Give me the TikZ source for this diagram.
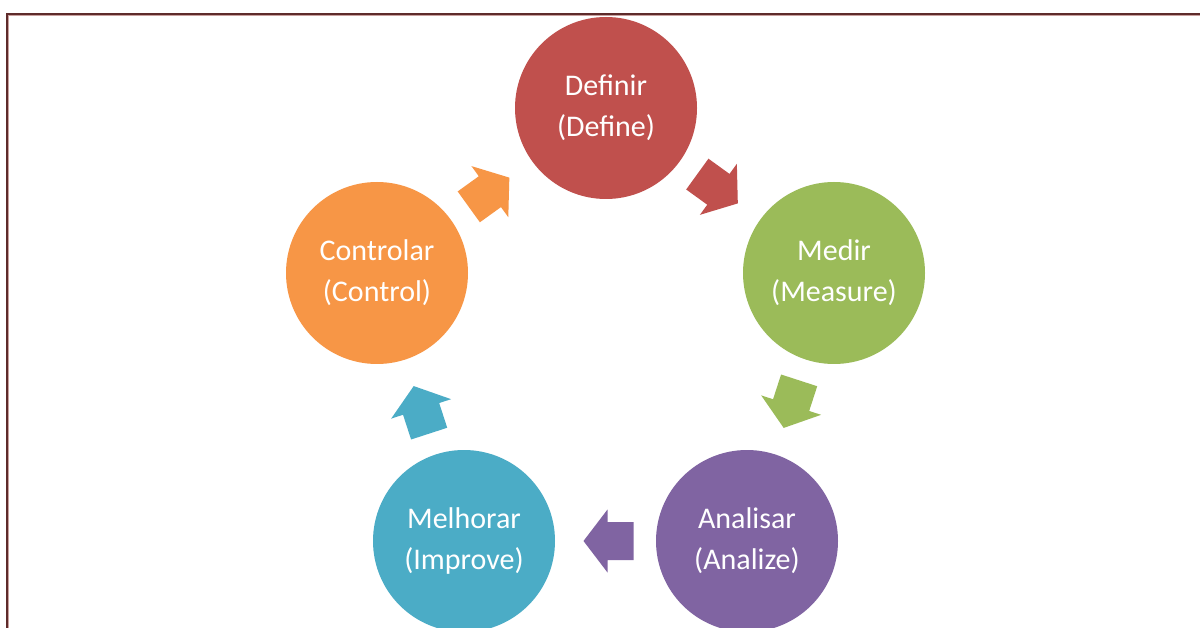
\documentclass[tikz,border=0pt]{standalone}
\usepackage{fontspec}
\setmainfont{Carlito}
\usetikzlibrary{calc}

\definecolor{defred}{HTML}{C0504D}
\definecolor{meagreen}{HTML}{9BBB59}
\definecolor{anapurple}{HTML}{8064A2}
\definecolor{impcyan}{HTML}{4BACC6}
\definecolor{conorange}{HTML}{F79646}
\definecolor{framedark}{HTML}{5E2B2B}
\definecolor{framelight}{HTML}{C9A09E}

\tikzset{
  stage/.style={circle, inner sep=0pt, minimum size=182pt, align=center,
    text=white, font=\fontsize{30}{41}\selectfont},
}

% block arrow pointing from node #1 towards node #2, placed halfway between them
\newcommand\stagearrow[3]{%
  \fill[#3] let \p1=(#1.center), \p2=(#2.center),
      \n1={atan2(\y2-\y1,\x2-\x1)},
      \p3=($(\p1)!0.5!(\p2)$) in
    ($(\p3)+(\n1:22pt)$)
    -- ($(\p3)+(\n1+180:2pt)+(\n1+90:31.5pt)$)
    -- ($(\p3)+(\n1+180:2pt)+(\n1+90:19pt)$)
    -- ($(\p3)+(\n1+180:28pt)+(\n1+90:19pt)$)
    -- ($(\p3)+(\n1+180:28pt)+(\n1-90:19pt)$)
    -- ($(\p3)+(\n1+180:2pt)+(\n1-90:19pt)$)
    -- ($(\p3)+(\n1+180:2pt)+(\n1-90:31.5pt)$)
    -- cycle;%
}

\begin{document}
\begin{tikzpicture}[x=1pt,y=-1pt]
  \useasboundingbox (0,0) rectangle (1200,628);
  \clip (0,0) rectangle (1200,628);
  \fill[white] (0,0) rectangle (1200,628);

  % page frame
  \draw[framedark, line width=2pt] (7,628) -- (7,14) -- (1200,14);
  \draw[framelight, line width=1pt] (8.5,628) -- (8.5,15.5) -- (1200,15.5);

  % the five stages
  \node[stage, fill=defred]    (def) at (606,108) {Definir\\(Define)};
  \node[stage, fill=meagreen]  (mea) at (834,273) {Medir\\(Measure)};
  \node[stage, fill=anapurple] (ana) at (747,541) {Analisar\\(Analize)};
  \node[stage, fill=impcyan]   (imp) at (464,541) {Melhorar\\(Improve)};
  \node[stage, fill=conorange] (con) at (377,273) {Controlar\\(Control)};

  % cycle arrows
  \stagearrow{def}{mea}{defred}
  \stagearrow{mea}{ana}{meagreen}
  \stagearrow{ana}{imp}{anapurple}
  \stagearrow{imp}{con}{impcyan}
  \stagearrow{con}{def}{conorange}
\end{tikzpicture}
\end{document}
